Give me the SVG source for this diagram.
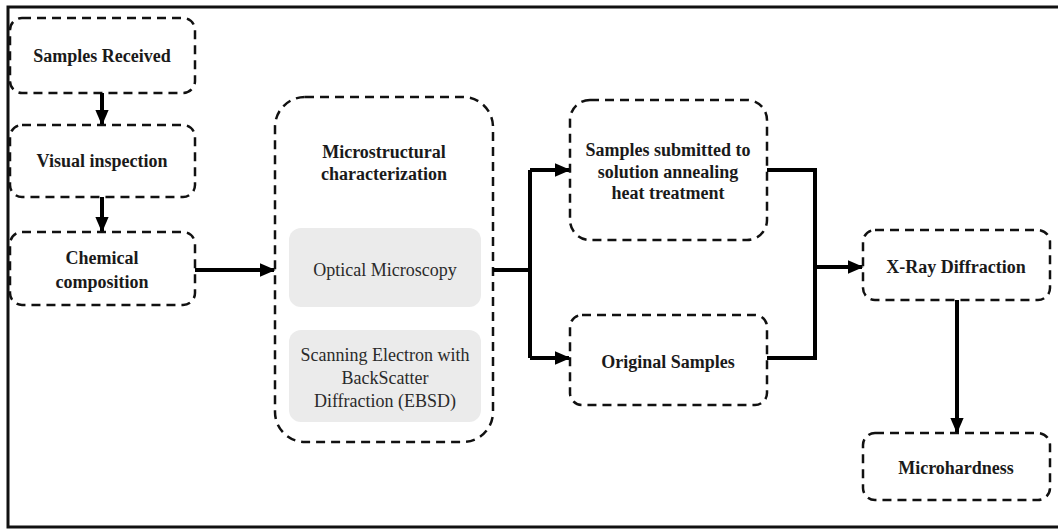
<svg xmlns="http://www.w3.org/2000/svg" width="1058" height="529" viewBox="0 0 1058 529">
<defs>
<style>
.box{fill:#fff;stroke:#111;stroke-width:2.5;stroke-dasharray:9 6}
.sub{fill:#ebebeb;stroke:none}
.t{font-family:"Liberation Serif","Times New Roman",serif;font-size:18px;font-weight:bold;fill:#1a1a1a;text-anchor:middle}
.r{font-family:"Liberation Serif","Times New Roman",serif;font-size:18px;fill:#2a2a2a;text-anchor:middle}
.c{fill:none;stroke:#000;stroke-width:4}
</style>
<marker id="ah" markerWidth="4" markerHeight="3.4" refX="3.6" refY="1.7" orient="auto" markerUnits="strokeWidth">
<path d="M0,0 L4,1.7 L0,3.4 z" fill="#000"/>
</marker>
</defs>
<rect width="1058" height="529" fill="#fff"/>
<path d="M1060,7 H8 V527 H1060" fill="none" stroke="#111" stroke-width="3"/>
<g id="n1"><rect class="box" x="10" y="18" width="185" height="75" rx="12"/><text class="t" x="102" y="62">Samples Received</text></g>
<g id="n2"><rect class="box" x="10" y="125" width="185" height="72" rx="12"/><text class="t" x="102" y="167">Visual inspection</text></g>
<g id="n3"><rect class="box" x="10" y="232" width="185" height="73" rx="12"/><text class="t" x="102" y="264">Chemical</text><text class="t" x="102" y="288">composition</text></g>
<g id="n4"><rect class="box" x="275" y="97" width="218" height="345" rx="30"/>
<text class="t" x="384" y="158">Microstructural</text><text class="t" x="384" y="180">characterization</text>
<rect class="sub" x="289" y="228" width="192" height="79" rx="12"/><text class="r" x="385" y="276">Optical Microscopy</text>
<rect class="sub" x="289" y="330" width="192" height="92" rx="12"/>
<text class="r" x="385" y="361">Scanning Electron with</text><text class="r" x="385" y="384">BackScatter</text><text class="r" x="385" y="407">Diffraction (EBSD)</text></g>
<g id="n5"><rect class="box" x="570" y="100" width="197" height="140" rx="20"/>
<text class="t" x="668" y="156">Samples submitted to</text><text class="t" x="668" y="178">solution annealing</text><text class="t" x="668" y="199">heat treatment</text></g>
<g id="n6"><rect class="box" x="570" y="315" width="197" height="90" rx="12"/><text class="t" x="668" y="368">Original Samples</text></g>
<g id="n7"><rect class="box" x="863" y="230" width="187" height="70" rx="12"/><text class="t" x="956" y="273">X-Ray Diffraction</text></g>
<g id="n8"><rect class="box" x="863" y="433" width="187" height="67" rx="12"/><text class="t" x="956" y="474">Microhardness</text></g>
<g id="connectors">
<path class="c" d="M102,93 V124" marker-end="url(#ah)"/>
<path class="c" d="M102,197 V231" marker-end="url(#ah)"/>
<path class="c" d="M195,270 H274" marker-end="url(#ah)"/>
<path class="c" d="M493,270 H530"/>
<path class="c" d="M530,170 V358"/>
<path class="c" d="M530,170 H569" marker-end="url(#ah)"/>
<path class="c" d="M530,358 H569" marker-end="url(#ah)"/>
<path class="c" d="M767,170 H815 V358 H767"/>
<path class="c" d="M815,267 H862" marker-end="url(#ah)"/>
<path class="c" d="M957,300 V432" marker-end="url(#ah)"/>
</g>
</svg>
